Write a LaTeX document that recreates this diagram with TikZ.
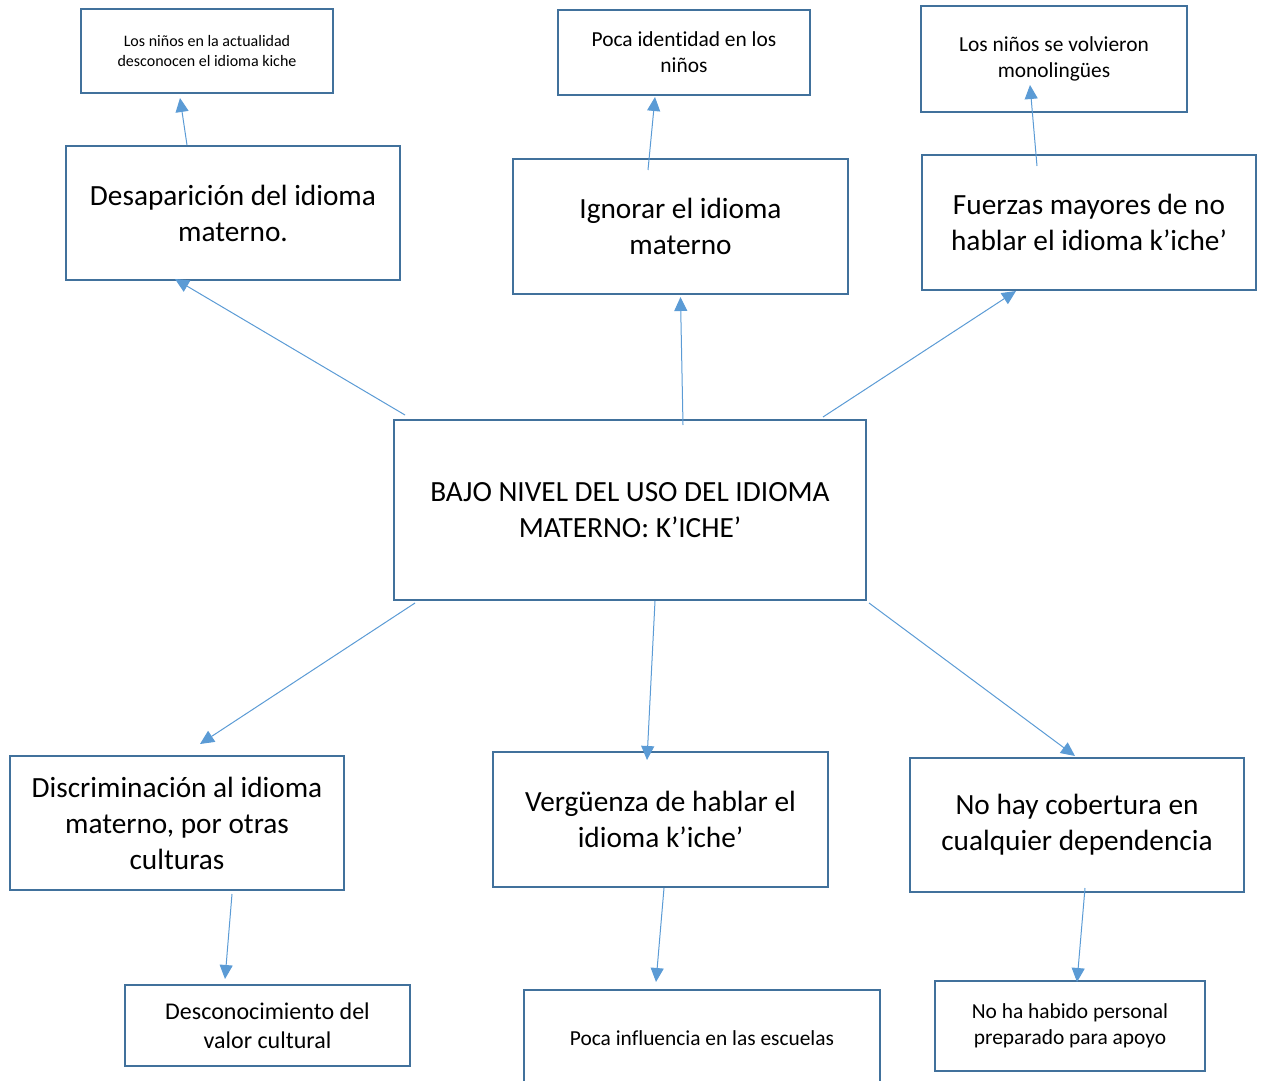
\documentclass[tikz,border=0pt]{standalone}
\usepackage{fontspec}
\setmainfont{Carlito}[Ligatures=NoCommon]
\usetikzlibrary{arrows.meta}
\definecolor{boxc}{HTML}{41719C}
\definecolor{arrc}{HTML}{5B9BD5}
\tikzset{
  box/.style={draw=boxc, line width=2pt, rectangle, align=center, inner sep=0pt},
  conn/.style={draw=arrc, line width=1pt, -{Triangle[width=13pt,length=14pt]}},
  big/.style={font=\fontsize{29.3}{36}\selectfont},
  mid/.style={font=\fontsize{21.4}{26}\selectfont},
  tiny/.style={font=\fontsize{16}{20}\selectfont},
}
\begin{document}
\begin{tikzpicture}[x=1pt,y=-1pt]
\useasboundingbox (0,0) rectangle (1262,1081);
\clip (0,0) rectangle (1262,1081);
\node[box,tiny,minimum width=252pt,minimum height=84pt] (s1) at (207,51) {Los niños en la actualidad\\desconocen el idioma kiche};
\node[box,big,minimum width=334pt,minimum height=134pt] (desap) at (233,213) {Desaparición del idioma\\materno.};
\node[box,mid,minimum width=252pt,minimum height=85pt] (s2) at (684,52.5) {Poca identidad en los\\niños};
\node[box,big,minimum width=335pt,minimum height=135pt] (ign) at (680.5,226.5) {Ignorar el idioma\\materno};
\node[box,mid,minimum width=266pt,minimum height=106pt] (s3) at (1054,59) {Los niños se volvieron\\monolingües};
\node[box,big,minimum width=334pt,minimum height=135pt] (fuer) at (1089,222.5) {Fuerzas mayores de no\\hablar el idioma k’iche’};
\node[box,font=\fontsize{29.3}{36}\selectfont,minimum width=472pt,minimum height=180pt] (center) at (630,510) {BAJO NIVEL DEL USO DEL IDIOMA\\MATERNO: K’ICHE’};
\node[box,big,minimum width=334pt,minimum height=134pt] (disc) at (177,823) {Discriminación al idioma\\materno, por otras\\culturas};
\node[box,big,minimum width=335pt,minimum height=135pt] (verg) at (660.5,819.5) {Vergüenza de hablar el\\idioma k’iche’};
\node[box,big,minimum width=334pt,minimum height=134pt] (nohay) at (1077,825) {No hay cobertura en\\cualquier dependencia};
\node[box,font=\fontsize{24}{29}\selectfont,minimum width=285pt,minimum height=81pt] (b1) at (267.5,1025.5) {Desconocimiento del\\valor cultural};
\node[box,font=\fontsize{21.4}{26}\selectfont,minimum width=356pt,minimum height=96pt] (b2) at (702,1038) {Poca influencia en las escuelas};
\node[box,mid,minimum width=270pt,minimum height=90pt] (b3) at (1070,1026) {No ha habido personal\\preparado para apoyo};

\draw[conn] ([xshift=-46pt]desap.north) -- ([xshift=-27pt,yshift=-4pt]s1.south);
\draw[conn] ([xshift=-32.5pt,yshift=-12pt]ign.north) -- ([xshift=-29pt,yshift=-1pt]s2.south);
\draw[conn] ([xshift=-52pt,yshift=-12pt]fuer.north) -- ([xshift=-24pt,yshift=28pt]s3.south);
\draw[conn] ([xshift=12pt,yshift=4pt]center.north west) -- ([xshift=-58pt,yshift=2pt]desap.south);
\draw[conn] ([xshift=53pt,yshift=-6pt]center.north) -- ([yshift=-2pt]ign.south);
\draw[conn] ([xshift=-44pt,yshift=2pt]center.north east) -- ([xshift=-73pt]fuer.south);
\draw[conn] ([xshift=22pt,yshift=-2pt]center.south west) -- ([xshift=23pt,yshift=11pt]disc.north);
\draw[conn] ([xshift=25pt]center.south) -- ([xshift=-13.5pt,yshift=-9pt]verg.north);
\draw[conn] ([xshift=2pt,yshift=-2pt]center.south east) -- ([xshift=-2pt,yshift=1pt]nohay.north);
\draw[conn] ([xshift=55pt,yshift=-3pt]disc.south) -- ([xshift=-42.5pt,yshift=5pt]b1.north);
\draw[conn] ([xshift=3.5pt]verg.south) -- ([xshift=-46pt,yshift=7pt]b2.north);
\draw[conn] ([xshift=8pt,yshift=5pt]nohay.south) -- ([xshift=7pt,yshift=-2pt]b3.north);
\end{tikzpicture}
\end{document}
